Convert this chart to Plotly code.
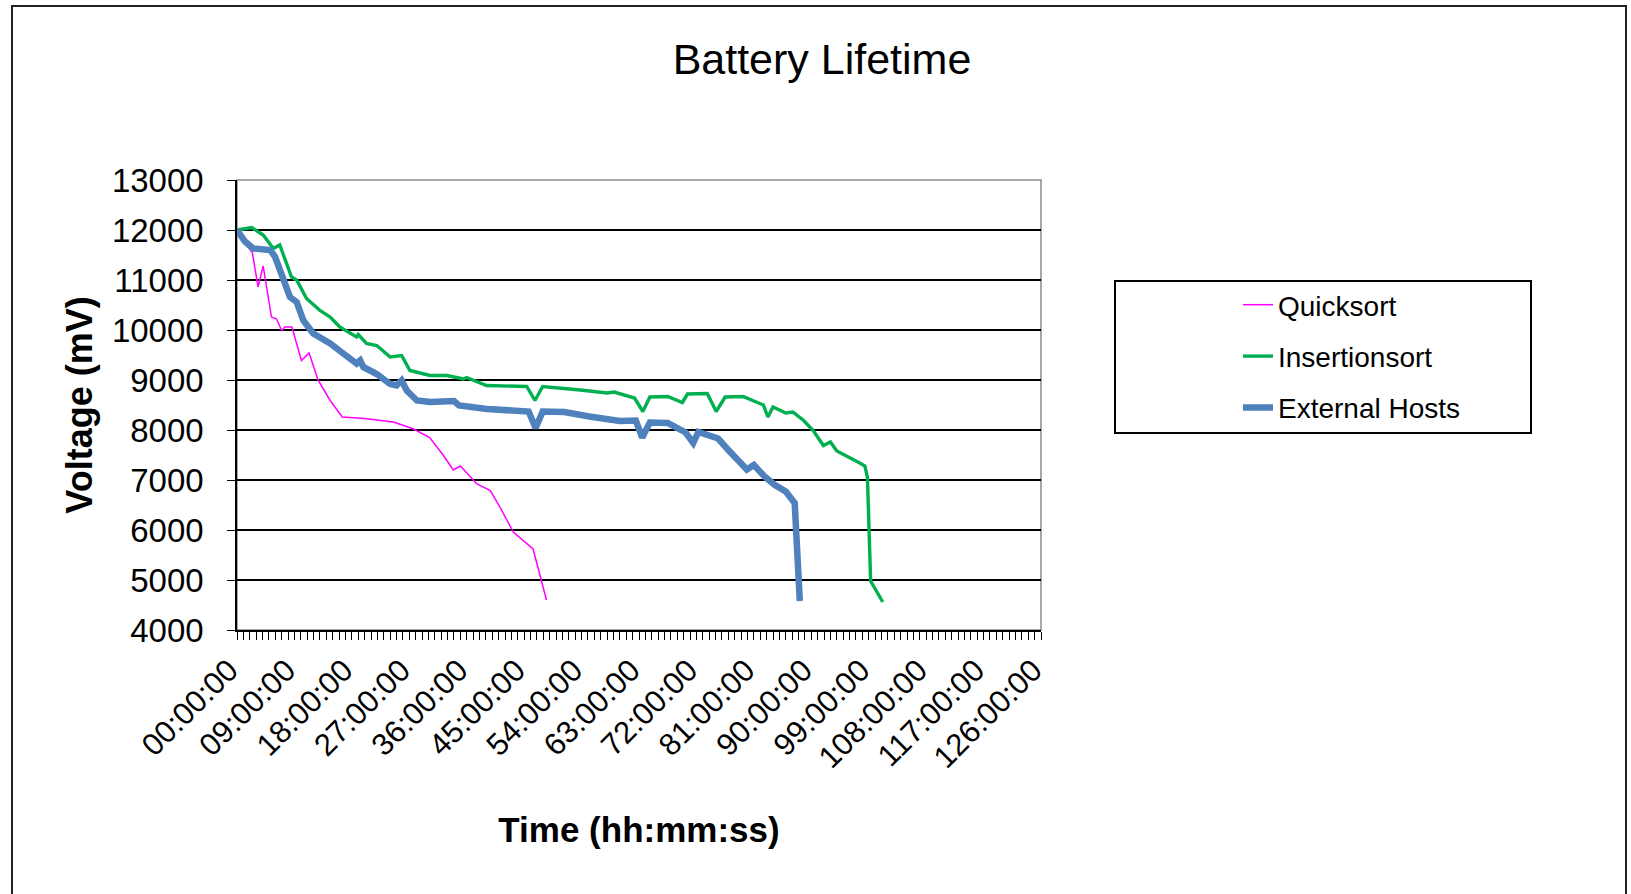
import plotly.graph_objects as go

# ---- data (hours since start, voltage in mV) ----
quick_h = [0, 1.2, 2.4, 3.3, 4.1, 5.4, 6.2, 7.0, 7.5, 8.6, 10.1, 11.3, 12.7, 14.6, 16.5,
           20.0, 24.5, 27.5, 30.2, 32.3, 33.9, 35.0, 37.6, 39.7, 41.2, 43.3, 46.4, 48.5]
quick_v = [12000, 11750, 11550, 10860, 11280, 10260, 10220, 9990, 10060, 10060, 9390, 9540,
           9000, 8590, 8260, 8230, 8160, 8030, 7850, 7500, 7200, 7280, 6920, 6790, 6460,
           5960, 5620, 4600]

ins_h = [0, 2.3, 4.1, 5.7, 6.7, 8.55, 9.35, 10.9, 13.0, 14.6, 16.1, 17.7, 18.75, 19.0, 20.3,
         21.9, 24.0, 25.8, 27.1, 30.25, 32.9, 35.5, 36.0, 39.1, 45.4, 46.7, 47.9, 53.8, 58.0,
         59.1, 62.3, 63.6, 64.7, 67.5, 69.8, 70.6, 73.7, 75.1, 76.5, 79.3, 82.5, 83.2, 84.0,
         86.0, 87.1, 88.8, 90.3, 91.9, 93.0, 94.0, 95.6, 97.6, 98.4, 98.8, 99.3, 101.2]
ins_v = [12000, 12050, 11900, 11630, 11700, 11060, 11000, 10630, 10390, 10260, 10060, 9930,
         9860, 9910, 9730, 9690, 9460, 9490, 9190, 9090, 9090, 9020, 9050, 8890, 8870, 8590,
         8870, 8800, 8740, 8760, 8640, 8370, 8660, 8670, 8550, 8720, 8730, 8370, 8660, 8670,
         8500, 8260, 8460, 8340, 8360, 8190, 7990, 7690, 7760, 7580, 7480, 7340, 7280, 7050,
         4980, 4560]

ext_h = [0, 1.25, 2.55, 5.2, 5.95, 7.25, 8.3, 9.35, 10.4, 11.95, 14.6, 16.65, 18.75, 19.3,
         19.8, 21.9, 24.0, 25.0, 25.8, 26.6, 28.2, 30.25, 34.0, 34.8, 39.2, 45.7, 46.8, 47.9,
         51.3, 55.2, 60.0, 62.5, 63.5, 64.7, 67.5, 70.3, 71.5, 72.3, 75.4, 77.0, 79.9, 81.0,
         82.6, 84.3, 86.0, 87.4, 88.2]
ext_v = [12000, 11770, 11630, 11600, 11470, 11000, 10660, 10560, 10190, 9930, 9730, 9530,
         9330, 9390, 9260, 9120, 8920, 8890, 8990, 8790, 8590, 8560, 8580, 8490, 8420, 8370,
         8040, 8370, 8360, 8270, 8180, 8190, 7850, 8150, 8140, 7950, 7740, 7960, 7830, 7600,
         7210, 7300, 7080, 6900, 6770, 6540, 4580]

tick_hours = [0, 9, 18, 27, 36, 45, 54, 63, 72, 81, 90, 99, 108, 117, 126]
tick_labels = ["00:00:00", "09:00:00", "18:00:00", "27:00:00", "36:00:00", "45:00:00",
               "54:00:00", "63:00:00", "72:00:00", "81:00:00", "90:00:00", "99:00:00",
               "108:00:00", "117:00:00", "126:00:00"]

FONT = "Liberation Sans, Arial, sans-serif"

W, H = 1631, 894
L, R, T, B = 237, 590, 180, 264
PW, PH = W - L - R, H - T - B


def px(x):
    return (x - L) / PW


def py(y):
    return (H - B - y) / PH


fig = go.Figure()
fig.add_trace(go.Scatter(x=quick_h, y=quick_v, mode="lines", name="Quicksort",
                         legendgroup="a", line=dict(color="#FF00FF", width=1.5)))
fig.add_trace(go.Scatter(x=ins_h, y=ins_v, mode="lines", name="Insertionsort",
                         legendgroup="b", line=dict(color="#00B050", width=3.4)))
fig.add_trace(go.Scatter(x=ext_h, y=ext_v, mode="lines", name="External Hosts",
                         legendgroup="c", line=dict(color="#4F81BD", width=6.5)))

fig.update_layout(
    width=W, height=H,
    margin=dict(l=L, r=R, t=T, b=B, autoexpand=False),
    paper_bgcolor="white", plot_bgcolor="white",
    font=dict(family=FONT, color="black"),
    title=dict(text="Battery Lifetime", x=822 / W, xanchor="center",
               y=1 - 59 / H, yanchor="middle", yref="container",
               font=dict(size=43, family=FONT, color="black")),
    xaxis=dict(range=[0, 126], tickvals=tick_hours, ticktext=tick_labels, tickangle=-45,
               showgrid=False, zeroline=False, showline=True, linecolor="black", linewidth=1.5,
               ticks="outside", ticklen=8, tickcolor="black", tickwidth=1,
               ticklabelshift=-8,
               minor=dict(dtick=1, tick0=0, ticks="outside", ticklen=8, tickcolor="black",
                          tickwidth=1, showgrid=False),
               tickfont=dict(size=31, family=FONT, color="black"),
               title=dict(text="<b>Time (hh:mm:ss)</b>", standoff=44,
                          font=dict(size=35, family=FONT, color="black"))),
    yaxis=dict(range=[4000, 13000], dtick=1000, tickformat="d",
               showgrid=True, gridcolor="black", gridwidth=1.8,
               zeroline=False, showline=True, linecolor="black", linewidth=1.5,
               ticks="outside", ticklen=8, tickcolor="black", tickwidth=1,
               ticklabelstandoff=17,
               tickfont=dict(size=33, family=FONT, color="black"),
               title=dict(text="<b>Voltage (mV)</b>", standoff=8,
                          font=dict(size=36, family=FONT, color="black"))),
    legend=dict(x=px(1238), y=py(280), xanchor="left", yanchor="top",
                traceorder="grouped", tracegroupgap=12, bgcolor="rgba(0,0,0,0)",
                borderwidth=0, font=dict(size=28, family=FONT, color="black")),
    showlegend=True,
    shapes=[
        # plot-area border (gray)
        dict(type="rect", xref="paper", yref="paper", x0=0, x1=1, y0=0, y1=1,
             line=dict(color="#8c8c8c", width=1.5), layer="below"),
        # legend box
        dict(type="rect", xref="paper", yref="paper", x0=px(1115), x1=px(1531),
             y0=py(433), y1=py(281), line=dict(color="black", width=2)),
        # chart-area border
        dict(type="rect", xref="paper", yref="paper", x0=px(12), x1=px(1626),
             y0=py(905), y1=py(6), line=dict(color="#222222", width=2)),
    ],
)

fig.write_html("out.html")
